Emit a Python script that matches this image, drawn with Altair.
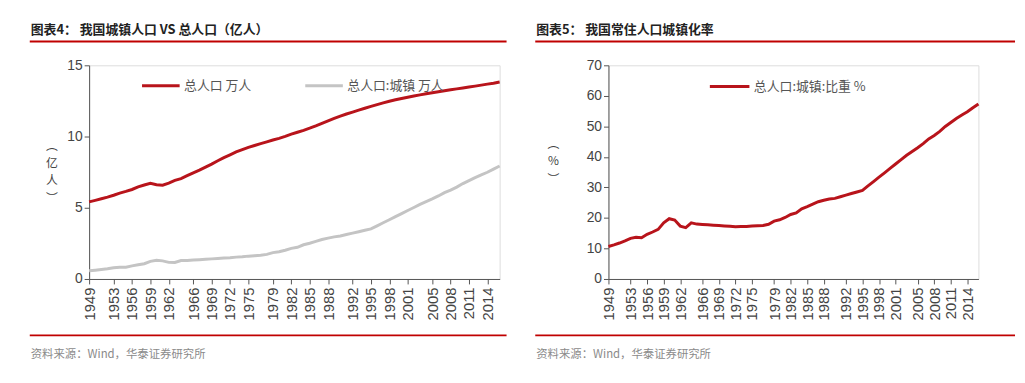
import altair as alt
import pandas as pd

years = list(range(1949, 2017))
total_wan = [54167, 55196, 56300, 57482, 58796, 60266, 61465, 62828, 64653, 65994,
             67207, 66207, 65859, 67295, 69172, 70499, 72538, 74542, 76368, 78534,
             80671, 82992, 85229, 87177, 89211, 90859, 92420, 93717, 94974, 96259,
             97542, 98705, 100072, 101654, 103008, 104357, 105851, 107507, 109300, 111026,
             112704, 114333, 115823, 117171, 118517, 119850, 121121, 122389, 123626, 124761,
             125786, 126743, 127627, 128453, 129227, 129988, 130756, 131448, 132129, 132802,
             133450, 134091, 134735, 135404, 136072, 136782, 137462, 138271]
urban_wan = [5765, 6169, 6632, 7163, 7826, 8249, 8285, 9185, 9949, 10721,
             12371, 13073, 12707, 11659, 11646, 12950, 13045, 13313, 13548, 13838,
             14117, 14424, 14711, 14935, 15345, 15595, 16030, 16341, 16669, 17245,
             18495, 19140, 20171, 21480, 22274, 24017, 25094, 26366, 27674, 28661,
             29540, 30195, 31203, 32175, 33173, 34169, 35174, 37304, 39449, 41608,
             43748, 45906, 48064, 50212, 52376, 54283, 56212, 58288, 60633, 62403,
             64512, 66978, 69079, 71182, 73111, 74916, 77116, 79298]
urban_rate = [10.64, 11.18, 11.78, 12.46, 13.31, 13.69, 13.48, 14.62, 15.39, 16.25,
              18.41, 19.75, 19.29, 17.33, 16.84, 18.37, 17.98, 17.86, 17.74, 17.62,
              17.50, 17.38, 17.26, 17.13, 17.20, 17.16, 17.34, 17.44, 17.55, 17.92,
              18.96, 19.39, 20.16, 21.13, 21.62, 23.01, 23.71, 24.52, 25.32, 25.81,
              26.21, 26.41, 26.94, 27.46, 27.99, 28.51, 29.04, 30.48, 31.91, 33.35,
              34.78, 36.22, 37.66, 39.09, 40.53, 41.76, 42.99, 44.34, 45.89, 46.99,
              48.34, 49.95, 51.27, 52.57, 53.73, 54.77, 56.10, 57.35]
tick_years = [1949, 1953, 1956, 1959, 1962, 1966, 1969, 1972, 1975, 1979, 1982,
              1985, 1988, 1992, 1995, 1998, 2001, 2005, 2008, 2011, 2014]

s_total = "总人口 万人"
s_urban = "总人口:城镇 万人"
s_rate = "总人口:城镇:比重 %"

title_left = "图表4：  我国城镇人口 VS 总人口（亿人）"
title_right = "图表5：  我国常住人口城镇化率"
source = "资料来源：Wind，华泰证券研究所"
ytitle_left = ["︵", "亿", "人", "︶"]
ytitle_right = ["︵", "%", "︶"]

df_left = pd.DataFrame({
    "year": years * 2,
    "value": [v / 10000 for v in total_wan] + [v / 10000 for v in urban_wan],
    "series": [s_total] * len(years) + [s_urban] * len(years),
})
df_right = pd.DataFrame({"year": years, "value": urban_rate, "series": [s_rate] * len(years)})

RED = "#c00000"
LINE_RED = "#b8141b"
GRAY = "#c4c4c4"
CJK = "Noto Sans CJK SC"
NUM = "Liberation Sans"

W1, W2, H = 415, 374, 216


def xaxis():
    return alt.X("year:Q", scale=alt.Scale(domain=[1949, 2016], nice=False, zero=False),
                 axis=alt.Axis(values=tick_years, format="d", labelAngle=-90, labelFontSize=15,
                               labelFont=NUM, labelColor="#444", tickSize=5, tickColor="#555",
                               domainColor="#555", title=None, labelPadding=3, grid=False,
                               labelFlush=False, labelOverlap=False))


def decorations(width, left_off, right_off, title):
    base = alt.Chart(pd.DataFrame({"k": [0]}))
    top_rule = base.mark_rule(color=RED, strokeWidth=2).encode(
        x=alt.value(left_off), x2=alt.value(width + right_off), y=alt.value(-24))
    bot_rule = base.mark_rule(color=RED, strokeWidth=2).encode(
        x=alt.value(left_off), x2=alt.value(width + right_off), y=alt.value(H + 57))
    ttl = base.mark_text(align="left", baseline="middle", font=CJK, fontSize=13,
                         fontWeight="bold", color="#222").encode(
        x=alt.value(left_off + 1), y=alt.value(-36), text=alt.value(title))
    src = base.mark_text(align="left", baseline="middle", font=CJK, fontSize=11.5,
                         color="#8a8a8a").encode(
        x=alt.value(left_off + 1), y=alt.value(H + 77), text=alt.value(source))
    return [top_rule, bot_rule, ttl, src]


def yaxis(vals, title, tx, ty):
    return alt.Axis(values=vals, labelFontSize=14, labelFont=NUM, labelColor="#444",
                    tickSize=5, tickColor="#555", domainColor="#555", grid=False,
                    title=title, titleAngle=0, titleX=tx, titleY=ty, titleBaseline="top",
                    titleAlign="center", titleFont=CJK, titleFontSize=12,
                    titleFontWeight="normal", titleColor="#444", titleLineHeight=17.5)


left_lines = alt.Chart(df_left).mark_line(strokeWidth=3).encode(
    x=xaxis(),
    y=alt.Y("value:Q", scale=alt.Scale(domain=[0, 15], nice=False),
            axis=yaxis([0, 5, 10, 15], ytitle_left, -38, 76)),
    color=alt.Color("series:N", sort=[s_total, s_urban],
                    scale=alt.Scale(domain=[s_total, s_urban], range=[LINE_RED, GRAY]),
                    legend=alt.Legend(orient="none", legendX=52, legendY=0, direction="horizontal",
                                      title=None, symbolType="stroke", symbolSize=1444,
                                      symbolStrokeWidth=3, labelFont=CJK, labelFontSize=13,
                                      labelColor="#555", columnPadding=48, labelOffset=3)),
    order=alt.Order("series:N", sort="ascending"),
)

left = alt.layer(left_lines, *decorations(W1, -60, 7, title_left)).properties(width=W1, height=H)

right_line = alt.Chart(df_right).mark_line(strokeWidth=3).encode(
    x=xaxis(),
    y=alt.Y("value:Q", scale=alt.Scale(domain=[0, 70], nice=False),
            axis=yaxis([0, 10, 20, 30, 40, 50, 60, 70], ytitle_right, -56, 74)),
    color=alt.Color("series:N", scale=alt.Scale(domain=[s_rate], range=[LINE_RED]),
                    legend=alt.Legend(orient="none", legendX=101, legendY=0, direction="horizontal",
                                      title=None, symbolType="stroke", symbolSize=1600,
                                      symbolStrokeWidth=3, labelFont=CJK, labelFontSize=13,
                                      labelColor="#555", labelOffset=3)),
)

right = alt.layer(right_line, *decorations(W2, -74, 37, title_right)).properties(width=W2, height=H)

chart = alt.hconcat(left, right, spacing=25).resolve_scale(color="independent").properties(
    padding={"left": 20, "top": 13, "right": 0, "bottom": 0}
).configure_view(stroke=None).configure(background="white")

chart.save("out.html", embed_options={"renderer": "svg", "actions": False})
